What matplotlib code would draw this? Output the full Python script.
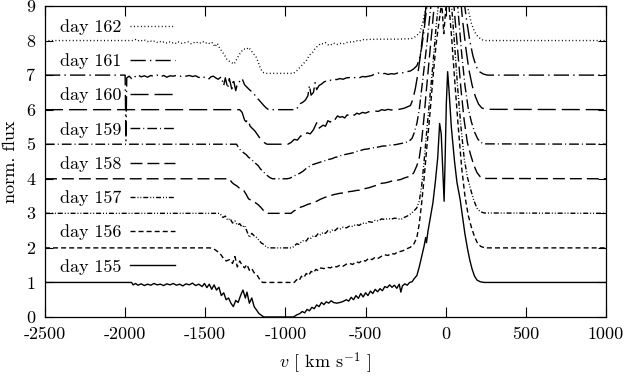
import numpy as np
import matplotlib
matplotlib.use("Agg")
import matplotlib.pyplot as plt

plt.rcParams['font.family'] = 'cmr10'
plt.rcParams['mathtext.fontset'] = 'cm'
plt.rcParams['axes.unicode_minus'] = False
plt.rcParams['lines.scale_dashes'] = False

# line profiles: (velocity [km/s], flux normalised to continuum), one list per day
d155 = [(-2500, 1.0), (-1960, 1.0), (-1950, 0.93), (-1935, 0.97), (-1920, 0.92), (-1900, 0.96),
        (-1880, 0.91), (-1860, 0.95), (-1840, 0.92), (-1820, 0.97), (-1800, 0.93), (-1780, 0.95),
        (-1760, 0.91), (-1740, 0.96), (-1720, 0.93), (-1700, 0.97), (-1680, 0.92), (-1660, 0.95),
        (-1640, 0.90), (-1620, 0.96), (-1600, 0.93), (-1580, 0.98), (-1560, 0.91), (-1540, 0.95),
        (-1520, 0.88), (-1505, 0.97), (-1490, 0.85), (-1475, 0.95), (-1460, 0.80), (-1445, 0.93),
        (-1430, 0.78), (-1415, 0.86), (-1400, 0.62), (-1385, 0.70), (-1370, 0.50), (-1355, 0.55),
        (-1340, 0.40), (-1325, 0.30), (-1310, 0.48), (-1295, 0.42), (-1280, 0.62), (-1265, 0.78),
        (-1250, 0.55), (-1240, 0.72), (-1225, 0.40), (-1210, 0.55), (-1195, 0.30), (-1180, 0.20),
        (-1165, 0.10), (-1150, 0.05), (-1135, 0.0), (-950, 0.0), (-930, 0.06), (-910, 0.10),
        (-895, 0.16), (-880, 0.12), (-865, 0.22), (-850, 0.18), (-835, 0.28), (-820, 0.24),
        (-805, 0.35), (-790, 0.30), (-775, 0.42), (-760, 0.36), (-745, 0.44), (-730, 0.40),
        (-715, 0.47), (-700, 0.42), (-680, 0.40), (-660, 0.42), (-640, 0.45), (-620, 0.50),
        (-605, 0.46), (-590, 0.57), (-575, 0.50), (-560, 0.62), (-545, 0.54), (-530, 0.68),
        (-515, 0.58), (-500, 0.70), (-485, 0.62), (-470, 0.75), (-455, 0.68), (-440, 0.80),
        (-425, 0.73), (-410, 0.82), (-395, 0.76), (-380, 0.88), (-365, 0.85), (-350, 0.93),
        (-335, 0.86), (-320, 0.92), (-305, 0.83), (-290, 0.95), (-280, 0.72), (-270, 0.90),
        (-255, 0.96), (-240, 0.92), (-225, 1.00), (-210, 1.02), (-195, 1.12), (-180, 1.20),
        (-165, 1.45), (-150, 1.75), (-135, 2.05), (-125, 2.30), (-120, 2.15), (-110, 2.50),
        (-95, 2.9), (-80, 3.3), (-65, 3.9), (-50, 4.6), (-38, 5.6), (-28, 5.3), (-18, 4.2),
        (-10, 3.35), (-4, 4.5), (4, 6.2), (12, 7.1), (20, 6.6), (35, 5.5), (55, 4.5), (70, 3.9),
        (90, 3.4), (105, 2.9), (120, 2.4), (135, 2.0), (150, 1.65), (165, 1.38), (180, 1.18),
        (195, 1.07), (215, 1.02), (240, 1.0), (1000, 1.0)]

d156 = [(-2500, 1.0), (-1470, 1.0), (-1440, 0.95), (-1410, 0.85), (-1390, 0.72), (-1370, 0.62),
        (-1350, 0.66), (-1330, 0.55), (-1315, 0.75), (-1300, 0.45), (-1285, 0.62), (-1270, 0.50),
        (-1255, 0.42), (-1240, 0.52), (-1225, 0.35), (-1210, 0.40), (-1195, 0.28), (-1180, 0.24),
        (-1165, 0.12), (-1150, 0.02), (-1140, 0.0), (-945, 0.0), (-930, 0.08), (-915, 0.05),
        (-900, 0.18), (-885, 0.14), (-870, 0.26), (-855, 0.20), (-840, 0.32), (-825, 0.28),
        (-810, 0.38), (-795, 0.34), (-780, 0.42), (-760, 0.40), (-740, 0.44), (-720, 0.42),
        (-700, 0.47), (-680, 0.45), (-660, 0.50), (-640, 0.47), (-620, 0.53), (-600, 0.55),
        (-580, 0.52), (-560, 0.60), (-540, 0.57), (-520, 0.64), (-500, 0.62), (-480, 0.70),
        (-460, 0.66), (-440, 0.73), (-420, 0.70), (-400, 0.76), (-380, 0.80), (-360, 0.78),
        (-340, 0.84), (-320, 0.82), (-300, 0.88), (-280, 0.90), (-260, 0.93), (-240, 0.98),
        (-220, 1.02), (-200, 1.10), (-180, 1.30), (-165, 1.7), (-150, 2.3), (-135, 3.0),
        (-120, 3.8), (-100, 4.8), (-80, 5.9), (-60, 6.9), (-40, 7.6), (-25, 8.1), (-12, 7.2),
        (0, 7.9), (15, 8.3), (35, 7.2), (60, 5.6), (80, 4.4), (100, 3.3), (120, 2.5), (140, 1.95),
        (160, 1.6), (180, 1.32), (200, 1.12), (220, 1.04), (245, 1.0), (1000, 1.0)]

d157 = [(-2500, 1.0), (-1410, 1.0), (-1390, 0.88), (-1375, 0.92), (-1360, 0.80), (-1345, 0.85),
        (-1330, 0.72), (-1315, 0.78), (-1300, 0.66), (-1285, 0.70), (-1270, 0.60), (-1255, 0.65),
        (-1240, 0.48), (-1225, 0.30), (-1210, 0.42), (-1195, 0.35), (-1180, 0.30), (-1165, 0.22),
        (-1150, 0.14), (-1135, 0.10), (-1120, 0.03), (-1105, 0.0), (-960, 0.0), (-945, 0.05),
        (-930, 0.12), (-915, 0.10), (-900, 0.18), (-885, 0.22), (-870, 0.20), (-855, 0.30),
        (-840, 0.28), (-825, 0.36), (-810, 0.33), (-795, 0.42), (-780, 0.38), (-765, 0.45),
        (-750, 0.42), (-735, 0.50), (-720, 0.46), (-705, 0.53), (-690, 0.50), (-675, 0.57),
        (-660, 0.54), (-640, 0.60), (-620, 0.58), (-600, 0.63), (-580, 0.62), (-560, 0.68),
        (-540, 0.65), (-520, 0.72), (-500, 0.70), (-480, 0.76), (-460, 0.74), (-440, 0.80),
        (-420, 0.78), (-400, 0.84), (-380, 0.82), (-360, 0.85), (-340, 0.83), (-320, 0.86),
        (-300, 0.85), (-280, 0.82), (-260, 0.88), (-240, 0.92), (-220, 0.98), (-200, 1.06),
        (-180, 1.16), (-165, 1.35), (-150, 1.8), (-135, 2.5), (-120, 3.3), (-100, 4.3),
        (-80, 5.3), (-60, 6.4), (-40, 7.3), (-25, 7.8), (-12, 7.0), (0, 7.6), (15, 8.1),
        (35, 7.1), (55, 5.9), (75, 4.6), (95, 3.5), (115, 2.6), (135, 2.05), (155, 1.7),
        (175, 1.38), (195, 1.15), (215, 1.05), (240, 1.01), (1000, 1.0)]

d158 = [(-2500, 1.0), (-1350, 1.0), (-1335, 0.90), (-1320, 0.84), (-1305, 0.80), (-1290, 0.74),
        (-1275, 0.72), (-1260, 0.66), (-1245, 0.55), (-1230, 0.42), (-1215, 0.38), (-1200, 0.34),
        (-1185, 0.30), (-1170, 0.25), (-1155, 0.18), (-1140, 0.10), (-1125, 0.03), (-1110, 0.0),
        (-965, 0.0), (-950, 0.06), (-935, 0.10), (-920, 0.13), (-905, 0.18), (-890, 0.20),
        (-875, 0.23), (-860, 0.26), (-845, 0.28), (-830, 0.30), (-815, 0.33), (-800, 0.36),
        (-785, 0.40), (-770, 0.43), (-755, 0.46), (-740, 0.48), (-720, 0.51), (-700, 0.54),
        (-680, 0.56), (-660, 0.58), (-640, 0.59), (-620, 0.61), (-600, 0.63), (-580, 0.64),
        (-560, 0.66), (-540, 0.67), (-520, 0.69), (-500, 0.72), (-480, 0.74), (-460, 0.77),
        (-440, 0.80), (-420, 0.83), (-400, 0.87), (-380, 0.88), (-360, 0.90), (-340, 0.93),
        (-320, 0.95), (-300, 0.96), (-280, 0.98), (-260, 1.02), (-240, 1.05), (-220, 1.07),
        (-200, 1.17), (-180, 1.38), (-165, 1.6), (-150, 2.1), (-135, 2.8), (-120, 3.6),
        (-100, 4.6), (-80, 5.6), (-60, 6.6), (-40, 7.4), (-25, 7.8), (-12, 7.3), (0, 7.7),
        (15, 8.0), (35, 7.0), (55, 5.8), (75, 4.7), (95, 3.6), (115, 2.7), (135, 2.05),
        (155, 1.7), (175, 1.4), (195, 1.18), (215, 1.06), (240, 1.01), (1000, 1.0)]

d159 = [(-2500, 1.0), (-1305, 1.0), (-1290, 0.88), (-1275, 0.80), (-1260, 0.75), (-1245, 0.70),
        (-1230, 0.62), (-1215, 0.58), (-1200, 0.50), (-1185, 0.44), (-1170, 0.38), (-1155, 0.28),
        (-1140, 0.22), (-1125, 0.14), (-1110, 0.08), (-1095, 0.03), (-1080, 0.0), (-990, 0.0),
        (-970, 0.02), (-950, 0.07), (-930, 0.12), (-910, 0.16), (-890, 0.22), (-870, 0.30),
        (-850, 0.36), (-830, 0.41), (-810, 0.44), (-790, 0.47), (-770, 0.50), (-750, 0.53),
        (-730, 0.56), (-710, 0.58), (-690, 0.62), (-670, 0.64), (-650, 0.68), (-630, 0.70),
        (-610, 0.72), (-590, 0.74), (-570, 0.76), (-550, 0.80), (-530, 0.82), (-510, 0.85),
        (-490, 0.86), (-470, 0.88), (-450, 0.90), (-430, 0.91), (-410, 0.93), (-390, 0.95),
        (-370, 0.95), (-350, 0.97), (-330, 0.98), (-310, 0.99), (-290, 1.01), (-270, 1.03),
        (-250, 1.05), (-230, 1.08), (-210, 1.17), (-195, 1.35), (-180, 1.6), (-165, 2.0),
        (-150, 2.6), (-135, 3.2), (-115, 4.0), (-95, 4.9), (-75, 5.8), (-55, 6.6), (-35, 7.3),
        (-20, 7.6), (-8, 7.0), (5, 7.5), (20, 7.9), (40, 6.9), (60, 5.8), (80, 4.7), (100, 3.6),
        (120, 2.7), (140, 2.05), (160, 1.65), (180, 1.35), (200, 1.15), (220, 1.05),
        (245, 1.01), (1000, 1.0)]

d160 = [(-2500, 1.0), (-1285, 1.0), (-1270, 0.92), (-1255, 0.70), (-1245, 0.65), (-1235, 0.72),
        (-1220, 0.52), (-1205, 0.45), (-1190, 0.38), (-1175, 0.28), (-1160, 0.18), (-1145, 0.10),
        (-1130, 0.04), (-1115, 0.0), (-985, 0.0), (-965, 0.05), (-945, 0.14), (-925, 0.12),
        (-905, 0.24), (-885, 0.22), (-865, 0.33), (-845, 0.30), (-825, 0.42), (-805, 0.62),
        (-795, 0.45), (-780, 0.50), (-765, 0.55), (-750, 0.52), (-735, 0.68), (-720, 0.64),
        (-705, 0.76), (-690, 0.72), (-675, 0.82), (-660, 0.78), (-645, 0.80), (-630, 0.76),
        (-615, 0.85), (-600, 0.82), (-585, 0.88), (-570, 0.84), (-555, 0.90), (-540, 0.87),
        (-520, 0.92), (-500, 0.90), (-480, 0.94), (-460, 0.93), (-440, 0.96), (-420, 0.95),
        (-400, 1.0), (-380, 0.98), (-360, 1.01), (-340, 0.99), (-320, 1.01), (-300, 1.0),
        (-280, 1.02), (-260, 1.04), (-240, 1.08), (-220, 1.12), (-205, 1.3), (-190, 1.6),
        (-175, 2.0), (-160, 2.5), (-145, 3.1), (-125, 3.9), (-105, 4.8), (-85, 5.7), (-65, 6.5),
        (-45, 7.2), (-25, 7.6), (-10, 7.1), (5, 7.6), (25, 7.8), (45, 6.8), (65, 5.7), (85, 4.6),
        (105, 3.6), (125, 2.8), (145, 2.15), (165, 1.7), (185, 1.38), (205, 1.16), (225, 1.05),
        (250, 1.01), (1000, 1.0)]

d161 = [(-2500, 1.0), (-2000, 1.0), (-1995, -0.9), (-1990, 0.92), (-1975, 0.97), (-1960, 0.90),
        (-1945, 0.98), (-1930, 0.93), (-1915, 0.99), (-1900, 0.95), (-1880, 0.98), (-1860, 0.94),
        (-1840, 0.99), (-1820, 0.96), (-1800, 1.0), (-1780, 0.95), (-1760, 0.99), (-1740, 0.94),
        (-1720, 0.98), (-1700, 0.97), (-1680, 0.99), (-1660, 0.96), (-1640, 0.99), (-1620, 0.97),
        (-1600, 0.99), (-1580, 0.96), (-1560, 0.98), (-1540, 0.93), (-1520, 0.97), (-1500, 0.92),
        (-1480, 0.88), (-1465, 0.95), (-1450, 0.97), (-1435, 0.92), (-1420, 0.88), (-1400, 0.95),
        (-1385, 0.70), (-1375, 0.92), (-1360, 0.62), (-1350, 0.90), (-1335, 0.60), (-1325, 0.88),
        (-1310, 0.55), (-1300, 0.75), (-1285, 0.82), (-1270, 0.90), (-1255, 0.72), (-1240, 0.65),
        (-1225, 0.58), (-1210, 0.52), (-1195, 0.45), (-1180, 0.35), (-1165, 0.28), (-1150, 0.20),
        (-1135, 0.12), (-1120, 0.05), (-1105, 0.0), (-935, 0.0), (-920, 0.08), (-905, 0.18),
        (-890, 0.22), (-875, 0.28), (-860, 0.40), (-850, 0.70), (-840, 0.42), (-825, 0.50),
        (-815, 0.78), (-805, 0.58), (-790, 0.70), (-775, 0.74), (-760, 0.80), (-745, 0.83),
        (-730, 0.82), (-715, 0.86), (-700, 0.88), (-680, 0.87), (-660, 0.90), (-640, 0.88),
        (-620, 0.92), (-600, 0.93), (-580, 0.91), (-560, 0.94), (-540, 0.92), (-520, 0.96),
        (-500, 0.95), (-480, 0.97), (-460, 0.99), (-440, 1.04), (-420, 1.06), (-400, 1.03),
        (-380, 1.05), (-360, 1.02), (-340, 1.04), (-320, 1.03), (-300, 1.06), (-280, 1.05),
        (-260, 1.08), (-240, 1.10), (-220, 1.12), (-200, 1.18), (-180, 1.27), (-165, 1.45),
        (-150, 1.8), (-135, 2.3), (-120, 2.9), (-100, 3.8), (-80, 4.7), (-60, 5.6), (-40, 6.4),
        (-20, 6.9), (-5, 6.5), (10, 7.0), (30, 7.2), (50, 6.3), (70, 5.2), (90, 4.2), (110, 3.3),
        (130, 2.6), (150, 2.0), (170, 1.55), (190, 1.25), (210, 1.1), (235, 1.03), (260, 1.0),
        (1000, 1.0)]

d162 = [(-2500, 1.0), (-1950, 1.0), (-1935, 1.03), (-1920, 0.99), (-1905, 1.02), (-1890, 0.98),
        (-1875, 1.01), (-1860, 0.97), (-1845, 1.0), (-1830, 0.96), (-1815, 0.99), (-1800, 0.95),
        (-1785, 0.98), (-1770, 0.94), (-1755, 0.97), (-1740, 0.93), (-1725, 0.96), (-1710, 0.92),
        (-1695, 0.95), (-1680, 0.91), (-1665, 0.96), (-1650, 0.92), (-1635, 0.95), (-1620, 0.93),
        (-1605, 0.96), (-1590, 0.91), (-1575, 0.95), (-1560, 0.92), (-1545, 0.96), (-1530, 0.93),
        (-1515, 0.97), (-1500, 0.92), (-1485, 0.95), (-1470, 0.90), (-1455, 0.94), (-1440, 0.82),
        (-1425, 0.92), (-1410, 0.78), (-1395, 0.68), (-1380, 0.58), (-1365, 0.45), (-1350, 0.40),
        (-1335, 0.36), (-1320, 0.32), (-1305, 0.45), (-1290, 0.58), (-1275, 0.68), (-1260, 0.76),
        (-1245, 0.74), (-1230, 0.80), (-1215, 0.72), (-1200, 0.62), (-1185, 0.55), (-1170, 0.38),
        (-1155, 0.18), (-1140, 0.08), (-1125, 0.05), (-950, 0.05), (-930, 0.12), (-910, 0.22),
        (-890, 0.32), (-870, 0.42), (-850, 0.58), (-830, 0.66), (-810, 0.80), (-795, 0.85),
        (-780, 0.92), (-765, 0.90), (-750, 0.94), (-735, 0.88), (-720, 0.86), (-700, 0.93),
        (-680, 0.88), (-660, 0.92), (-640, 0.90), (-620, 0.94), (-600, 0.96), (-580, 0.95),
        (-560, 1.0), (-540, 0.98), (-520, 1.03), (-500, 1.02), (-480, 1.04), (-460, 1.03),
        (-440, 1.04), (-400, 1.04), (-350, 1.04), (-300, 1.04), (-250, 1.05), (-220, 1.05),
        (-200, 1.08), (-180, 1.15), (-160, 1.25), (-145, 1.5), (-130, 1.8), (-118, 2.1),
        (-100, 2.7), (-80, 3.5), (-60, 4.3), (-40, 5.0), (-20, 5.5), (0, 5.6), (20, 5.4),
        (40, 5.0), (60, 4.4), (80, 3.7), (100, 3.0), (120, 2.4), (140, 1.9), (160, 1.5),
        (180, 1.25), (200, 1.12), (220, 1.04), (240, 1.0), (1000, 1.0)]

days = [155, 156, 157, 158, 159, 160, 161, 162]
profiles = [d155, d156, d157, d158, d159, d160, d161, d162]
offsets = [0, 1, 2, 3, 4, 5, 6, 7]
# dash patterns in points
styles = ['-', (0, (3.6, 2.2)), (0, (3.6, 1.4, 0.7, 1.4, 0.7, 1.4)), (0, (8.6, 3.6)),
          (0, (7, 2.2, 0.7, 2.2)), (0, (13, 4.3)), (0, (11, 3, 1, 3)), (0, (0.7, 1.8))]

fig = plt.figure(figsize=(6.24, 3.76), dpi=100)
ax = fig.add_axes([45 / 624, 59 / 376, 561 / 624, 311 / 376])

handles = []
for day, prof, off, ls in zip(days, profiles, offsets, styles):
    arr = np.array(prof)
    line, = ax.plot(arr[:, 0], arr[:, 1] + off, color='black', lw=1.0, linestyle=ls,
                    label=f"day {day}")
    handles.append(line)

ax.set_xlim(-2500, 1000)
ax.set_ylim(0, 9)
ax.set_xticks(np.arange(-2500, 1001, 500))
ax.set_yticks(np.arange(0, 10, 1))
ax.tick_params(direction='in', top=True, right=True, labelsize=13, width=0.8)
ax.tick_params(axis='x', length=7, pad=7)
ax.tick_params(axis='y', length=6, pad=7)
for s in ax.spines.values():
    s.set_linewidth(0.9)

ax.set_xlabel(r"$v$ [ km s$^{-1}$ ]", fontsize=13, labelpad=6)
ax.set_ylabel("norm. flux", fontsize=13, labelpad=6)

ax.legend(handles=handles[::-1], loc='upper left', bbox_to_anchor=(0.027, 0.958),
          frameon=False, markerfirst=False, fontsize=13, borderpad=0, borderaxespad=0,
          handlelength=2.5, handletextpad=0.45, labelspacing=1.02)

fig.savefig("out.png", dpi=100)
